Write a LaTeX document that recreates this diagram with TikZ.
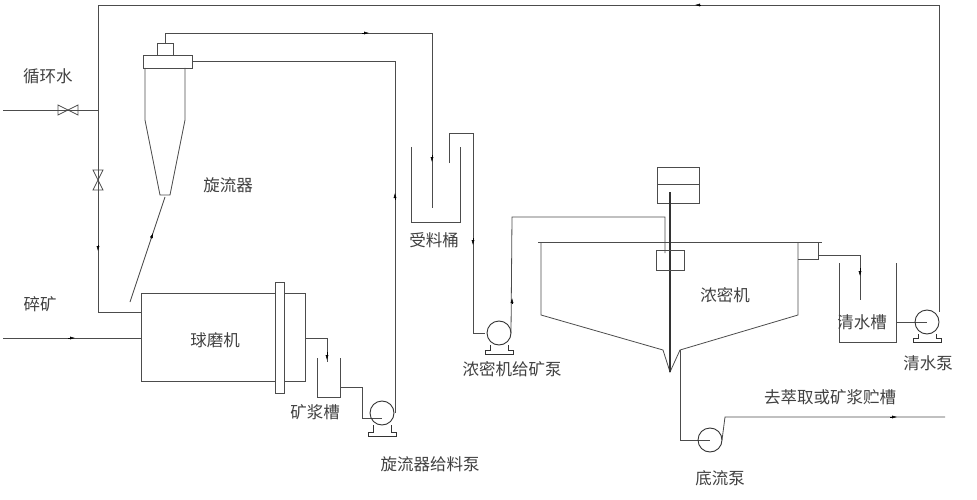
\documentclass[tikz,border=0pt]{standalone}
\usepackage{fontspec}
\newfontfamily\cjk{Noto Sans CJK SC}
\usetikzlibrary{arrows.meta}
\begin{document}
\begin{tikzpicture}[x=1pt,y=-1pt,
  pipe/.style={draw=black!70,line width=0.8pt},
  lbl/.style={font=\cjk\fontsize{16.5}{16.5}\selectfont,text=black!75,inner sep=0pt},
  flow/.style={-{Latex[length=5pt,width=3pt]},draw=black},
  pumpc/.style={draw=black!80,line width=0.9pt}]
\useasboundingbox (0,0) rectangle (977,500);
% recirculation top line
\draw[pipe] (98,312) -- (98,5) -- (939,5) -- (939,312);
\draw[flow] (700,5) -- (695,5);
\draw[pipe] (98,312) -- (141,312);
\draw[flow] (98,245) -- (98,251);
% water inlet
\draw[pipe] (3,110) -- (98,110);
\draw[pipe] (58,105) -- (58,115) -- (78,105) -- (78,115) -- cycle;
\draw[pipe] (93,170) -- (103,170) -- (93,190) -- (103,190) -- cycle;
\node[lbl] (t1) at (48,76) {循环水};
% mill
\draw[pipe] (141,293) rectangle (305,381);
\draw[pipe,fill=white] (275,282) rectangle (284,393);
\node[lbl] (t2) at (215,340) {球磨机};
\draw[pipe] (3,338) -- (141,338);
\draw[flow] (68,338) -- (75,338);
\node[lbl] (t3) at (40,304) {碎矿};
% cyclone
\draw[pipe] (157,43) rectangle (173,55);
\draw[pipe] (143,55) rectangle (192,68);
\draw[pipe] (145,68) -- (145,120) -- (160,195) -- (170,195) -- (185,120) -- (185,68);
\draw[pipe] (165,197) -- (130,302);
\draw[flow] (151,239) -- (153,233);
\node[lbl] (t4) at (228,185) {旋流器};
% overflow to receiving tank
\draw[pipe] (165,43) -- (165,33) -- (432,33) -- (432,208);
\draw[flow] (362,33) -- (369,33);
\draw[flow] (432,155) -- (432,162);
% feed line
\draw[pipe] (192,61) -- (395,61) -- (395,413);
\draw[flow] (395,200) -- (395,193);
% receiving tank
\draw[pipe] (411,147) -- (411,222) -- (460,222) -- (460,147);
\draw[pipe] (449,163) -- (449,133) -- (473,133) -- (473,333) -- (485,333);
\draw[flow] (473,238) -- (473,245);
\node[lbl] (t5) at (434,240) {受料桶};
% slurry tank
\draw[pipe] (305,338) -- (327,338) -- (327,362);
\draw[flow] (327,352) -- (327,360);
\draw[pipe] (317,358) -- (317,397) -- (340,397) -- (340,358);
\draw[pipe] (340,387) -- (362,387) -- (362,418) -- (382,418);
\node[lbl] (t6) at (315,412) {矿浆槽};
% cyclone feed pump
\draw[pumpc] (382,413) circle (12);
\draw[pumpc] (373,425) -- (373,432) -- (368,432) -- (368,436) -- (396,436) -- (396,432) -- (391,432) -- (391,425);
\node[lbl] (t7) at (430,464) {旋流器给料泵};
% thickener feed pump
\draw[pumpc] (499,333) circle (12);
\draw[pumpc] (490,345) -- (490,350) -- (485,350) -- (485,354) -- (513,354) -- (513,350) -- (508,350) -- (508,345);
\draw[pipe] (511,333) -- (512,217) -- (665,217) -- (665,253);
\draw[flow] (512,304) -- (512,298);
\node[lbl] (t8) at (512,369) {浓密机给矿泵};
% thickener
\draw[pipe] (538,242) -- (822,242);
\draw[pipe] (541,242) -- (541,315) -- (663,350) -- (670,372) -- (680,350) -- (798,315) -- (798,242);
\draw[pipe] (657,167) rectangle (699,203);
\draw[pipe] (657,184) -- (699,184);
\draw[pumpc,line width=1.1pt] (670,192) -- (670,372);
\draw[pipe] (656,250) rectangle (684,270);
\draw[pipe] (798,259) -- (818,259) -- (818,242);
\node[lbl] (t9) at (725,295) {浓密机};
% overflow to clean water tank
\draw[pipe] (818,255) -- (860,255) -- (860,300);
\draw[flow] (860,268) -- (860,276);
\draw[pipe] (839,263) -- (839,342) -- (896,342) -- (896,263);
\draw[pipe] (896,322) -- (927,322);
\node[lbl] (t10) at (862,322) {清水槽};
\draw[pumpc] (927,322) circle (12);
\draw[pumpc] (918,334) -- (918,338) -- (913,338) -- (913,342) -- (941,342) -- (941,338) -- (936,338) -- (936,334);
\node[lbl] (t11) at (928,363) {清水泵};
% underflow
\draw[pipe] (680,350) -- (680,440) -- (710,440);
\draw[pumpc] (710,440) circle (12);
\draw[pipe] (722,440) -- (725,417) -- (945,417);
\draw[flow] (890,417) -- (897,417);
\node[lbl] (t12) at (830,397) {去萃取或矿浆贮槽};
\node[lbl] (t13) at (720,478) {底流泵};
\end{tikzpicture}
\end{document}
